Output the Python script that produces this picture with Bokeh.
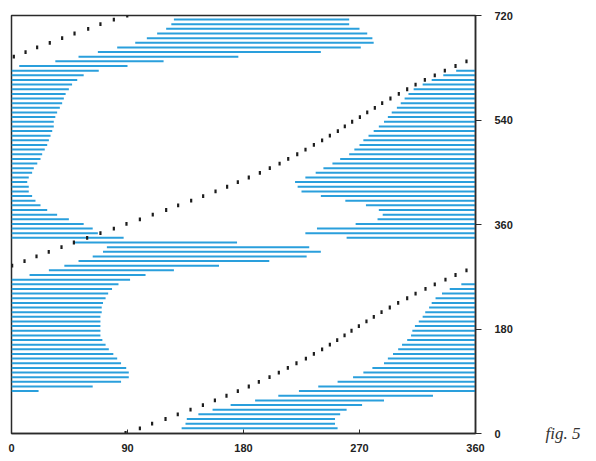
from bokeh.plotting import figure
from bokeh.models import Range1d, LinearAxis, FixedTicker
from bokeh.embed import file_html
from bokeh.resources import INLINE

# ---------------- data ----------------
x_ticks = [0, 90, 180, 270, 360]
y_ticks = [0, 180, 360, 540, 720]
caption = "fig. 5"

# lower right band of horizontal bars
lr_y = [9, 17, 25, 33, 41, 49, 57, 65, 73, 81, 89, 97, 105, 113, 121, 129,
        137, 145, 153, 161, 169, 177, 185, 193, 201, 209, 217, 225, 233, 241, 249, 257]
lr_start = [132, 135, 136, 145, 156, 170, 189, 207, 223, 238, 253, 265, 273, 280, 289, 292,
            296, 300, 303, 307, 310, 311, 313, 316, 319, 321, 324, 326, 329, 334, 340, 349]
lr_end = [253, 251, 251, 255, 260, 272, 289, 327, 360, 360, 360, 360, 360, 360, 360, 360,
          360, 360, 360, 360, 360, 360, 360, 360, 360, 360, 360, 360, 360, 360, 360, 360]

# left band of horizontal bars
lf_y = [73, 81, 89, 97, 105, 113, 121, 129, 137, 145, 153, 161, 169, 177, 185, 193,
        201, 209, 217, 225, 233, 241, 249, 257, 265, 273, 281, 289, 297, 305, 313, 321,
        329, 337, 345, 353, 361, 369, 377, 385, 393, 401, 409, 417, 425, 433, 441, 449,
        457, 465, 473, 481, 489, 497, 505, 513, 521, 529, 537, 545, 553, 561, 569, 577,
        585, 593, 601, 609, 617, 625]
lf_start = [0, 0, 0, 0, 0, 0, 0, 0, 0, 0, 0, 0, 0, 0, 0, 0,
            0, 0, 0, 0, 0, 0, 0, 0, 0, 14, 29, 41, 52, 63, 71, 74,
            48, 0, 0, 0, 0, 0, 0, 0, 0, 0, 0, 0, 0, 0, 0, 0,
            0, 0, 0, 0, 0, 0, 0, 0, 0, 0, 0, 0, 0, 0, 0, 0,
            0, 0, 0, 0, 0, 0]
lf_end = [21, 63, 85, 91, 91, 89, 85, 82, 79, 75.5, 73, 70.5, 69, 69, 69, 69,
          69, 70, 70, 71, 73, 75, 78, 83, 92, 104, 126, 161, 200, 229, 240, 231,
          175, 87, 67, 63, 56, 44.5, 35.4, 27.7, 22.5, 18.6, 16, 13.4, 13.4, 12.2, 13.4, 16,
          17.3, 20, 22.5, 23.8, 25.8, 27.7, 29, 30.3, 31.6, 32.8, 32.8, 34, 35.4, 37.5,
          39.3, 40.6, 42, 44.5, 47, 51, 56, 67.7]

# top band of horizontal bars
tp_y = [633, 641, 649, 657, 665, 673, 681, 689, 697, 705, 713]
tp_start = [6, 34, 52, 67, 82, 96, 105, 113, 120, 124, 126]
tp_end = [90, 118, 176, 240, 271, 281, 280, 276, 270, 262, 262]

# upper right band of horizontal bars
ur_y = [337, 345, 353, 361, 369, 377, 385, 393, 401, 409, 417, 425, 433, 441, 449, 457,
        465, 473, 481, 489, 497, 505, 513, 521, 529, 537, 545, 553, 561, 569, 577, 585,
        593, 601, 609, 617, 625]
ur_start = [260, 228, 237, 267, 284, 288, 285, 275, 259, 240, 225, 222, 220, 228, 236, 242,
            249, 255, 262, 266, 270, 273, 277, 281, 285, 289, 292, 295, 299, 302, 305, 308,
            312, 319, 326, 335, 345]
ur_end = [360] * 37

# dotted trajectory (three visible runs)
dl_x = [88.5, 99.6, 109.1, 119.5, 129, 138.9, 148.5, 157.8, 166.8, 175.6,
        184.1, 191.9, 200.2, 207.4, 214.4, 221.1, 228.4, 234.6, 241, 247,
        252.7, 258.4, 263.8, 269.5, 275.4, 281.1, 287.1, 293.5, 300, 307,
        313.5, 321.2, 328.4, 336.7, 344.5, 353]
dl_y = [1, 9, 17, 25, 33, 41, 49, 57, 65, 73, 81, 89, 97, 105, 113, 121, 129, 137,
        145, 153, 161, 169, 177, 185, 193, 201, 209, 217, 225, 233, 241, 249, 257, 265, 273, 281]
dm_x = [0.5, 10.1, 19.4, 28.9, 38.8, 48.4, 58.7, 69, 79.4,
        89.2, 99.6, 109.6, 120, 129.3, 139.4, 148.7, 158.3, 167.3, 175.6,
        184.1, 192.7, 200.4, 208, 214.7, 221.7, 228.1, 234.6, 241, 247,
        253.2, 258.6, 264.3, 270.3, 276, 281.9, 287.6, 294, 300.5, 307,
        313.5, 320.7, 328.4, 336.2, 344.5, 353]
dm_y = [289, 297, 305, 313, 321, 329, 337, 345, 353, 361, 369, 377, 385, 393, 401,
        409, 417, 425, 433, 441, 449, 457, 465, 473, 481, 489, 497, 505, 513, 521,
        529, 537, 545, 553, 561, 569, 577, 585, 593, 601, 609, 617, 625, 633, 641]
dt_x = [1.8, 10.9, 19.9, 29.7, 39.3, 48.9, 59.5, 69, 79.4, 89.8]
dt_y = [649, 657, 665, 673, 681, 689, 697, 705, 713, 720]

# ---------------- figure ----------------
BLUE = "#2a9fdc"
INK = "#1c1c1c"

p = figure(width=590, height=458, output_backend="svg", toolbar_location=None,
           x_range=Range1d(0, 360), y_range=Range1d(0, 720),
           x_axis_location=None, y_axis_location=None,
           min_border_left=11, min_border_right=115, min_border_top=15, min_border_bottom=25)
p.grid.visible = False
p.background_fill_color = "white"
p.border_fill_color = "white"
p.outline_line_color = "#2a2a2a"
p.outline_line_width = 1.5

for ys, x0, x1 in [(lr_y, lr_start, lr_end), (lf_y, lf_start, lf_end),
                   (tp_y, tp_start, tp_end), (ur_y, ur_start, ur_end)]:
    p.segment(x0=x0, y0=ys, x1=x1, y1=ys, line_color=BLUE, line_width=2)

for xs, ys in [(dl_x, dl_y), (dm_x, dm_y), (dt_x, dt_y)]:
    p.rect(x=xs, y=ys, width=2.2, height=3.8, width_units="screen", height_units="screen",
           fill_color=INK, line_color=None)

font = "'Liberation Sans Narrow', 'Liberation Sans', sans-serif"

xa = LinearAxis(ticker=FixedTicker(ticks=x_ticks))
xa.axis_line_color = "#2a2a2a"
xa.axis_line_width = 1.5
xa.major_tick_in = 4
xa.major_tick_out = 0
xa.minor_tick_line_color = None
xa.major_tick_line_color = "#2a2a2a"
xa.major_label_text_font = font
xa.major_label_text_font_size = "11px"
xa.major_label_text_font_style = "bold"
xa.major_label_text_color = "#222222"
xa.major_label_standoff = 10
p.add_layout(xa, "below")

ya = LinearAxis(ticker=FixedTicker(ticks=y_ticks))
ya.axis_line_color = "#2a2a2a"
ya.axis_line_width = 1.5
ya.major_tick_in = 0
ya.major_tick_out = 6
ya.minor_tick_line_color = None
ya.major_tick_line_color = "#2a2a2a"
ya.major_label_text_font = font
ya.major_label_text_font_size = "11px"
ya.major_label_text_font_style = "bold"
ya.major_label_text_color = "#222222"
ya.major_label_standoff = 13
ya.major_label_orientation = "horizontal"
p.add_layout(ya, "right")

# caption placed through a bare second right-hand axis with a single labelled tick
cap = LinearAxis(ticker=FixedTicker(ticks=[y_ticks[0]]),
                 major_label_overrides={y_ticks[0]: caption})
cap.axis_line_color = None
cap.major_tick_line_color = None
cap.minor_tick_line_color = None
cap.major_tick_in = 0
cap.major_tick_out = 0
cap.major_label_standoff = 30
cap.major_label_text_font = "Liberation Serif"
cap.major_label_text_font_style = "italic"
cap.major_label_text_font_size = "17px"
cap.major_label_text_color = "#333333"
cap.major_label_orientation = "horizontal"
p.add_layout(cap, "right")

open("out.html", "w").write(file_html(p, INLINE))
